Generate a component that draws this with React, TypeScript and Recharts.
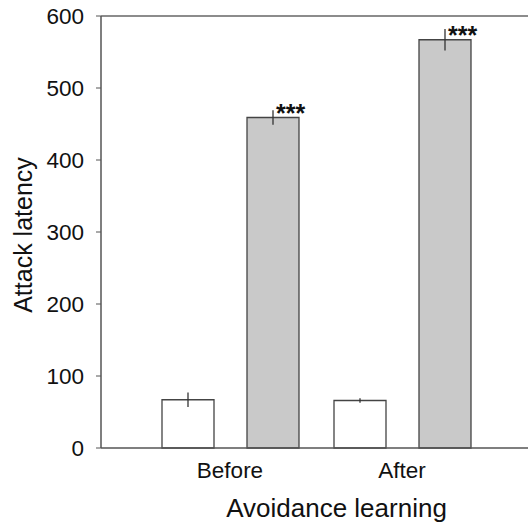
import React from 'react';
import { BarChart, Bar, XAxis, YAxis, ErrorBar, LabelList, ReferenceLine, Label } from 'recharts';

const categories = ['Before', 'After'];
const controlMeans = [67, 66];
const controlErrors = [10, 3];
const treatedMeans = [459, 567];
const treatedErrors = [10, 15];
const significance = ['***', '***'];
const yTicks = [0, 100, 200, 300, 400, 500, 600];

const data = categories.map((c, i) => ({
  name: c,
  control: controlMeans[i],
  controlErr: controlErrors[i],
  treated: treatedMeans[i],
  treatedErr: treatedErrors[i],
  sig: significance[i],
}));

const FONT = '"Liberation Sans", Arial, Helvetica, sans-serif';

const StarLabel = (props: any) => {
  const { x, y, width, value } = props;
  return (
    <text x={x + width / 2 + 3} y={y + 4} fontFamily={FONT} fontSize={25} fontWeight="bold" fill="#111">
      {value}
    </text>
  );
};

const YTitle = (props: any) => {
  const vb = props.viewBox || {};
  const cx = 23;
  const cy = vb.y + vb.height / 2 + 3;
  return (
    <text x={cx} y={cy} transform={`rotate(-90, ${cx}, ${cy})`} textAnchor="middle" dominantBaseline="central" fontFamily={FONT} fontSize={25} fill="#111">
      Attack latency
    </text>
  );
};

const XTitle = (props: any) => {
  const vb = props.viewBox || {};
  const cx = vb.x + vb.width / 2 + 22;
  return (
    <text x={cx} y={517} textAnchor="middle" fontFamily={FONT} fontSize={26} fill="#111">
      Avoidance learning
    </text>
  );
};

export default function App() {
  return (
    <div style={{ position: 'absolute', left: 0, top: 0, background: '#fff' }}>
      <BarChart
        width={528}
        height={525}
        data={data}
        margin={{ top: 16, right: 0, bottom: 17, left: 0 }}
        barSize={52}
        barGap={33}
      >
        <XAxis
          dataKey="name"
          tickLine={false}
          axisLine={{ stroke: '#555', strokeWidth: 1.5 }}
          padding={{ left: 43, right: 40 }}
          height={60}
          tickMargin={8}
          tick={{ fontFamily: FONT, fontSize: 22.5, fill: '#111' }}
        >
          <Label content={<XTitle />} />
        </XAxis>
        <YAxis
          domain={[0, 600]}
          ticks={yTicks}
          width={101}
          tickSize={5}
          tickMargin={12}
          axisLine={{ stroke: '#555', strokeWidth: 1.5 }}
          tickLine={{ stroke: '#555' }}
          tick={{ fontFamily: FONT, fontSize: 22.5, fill: '#111' }}
        >
          <Label content={<YTitle />} />
        </YAxis>
        <ReferenceLine y={600} stroke="#666" strokeWidth={1.5} />
        <Bar dataKey="control" fill="#ffffff" stroke="#444" strokeWidth={1.3} isAnimationActive={false}>
          <ErrorBar dataKey="controlErr" direction="y" width={0} stroke="#333" strokeWidth={1.3} />
        </Bar>
        <Bar dataKey="treated" fill="#c9c9c9" stroke="#444" strokeWidth={1.3} isAnimationActive={false}>
          <ErrorBar dataKey="treatedErr" direction="y" width={0} stroke="#333" strokeWidth={1.3} />
          <LabelList dataKey="sig" content={<StarLabel />} />
        </Bar>
      </BarChart>
    </div>
  );
}
